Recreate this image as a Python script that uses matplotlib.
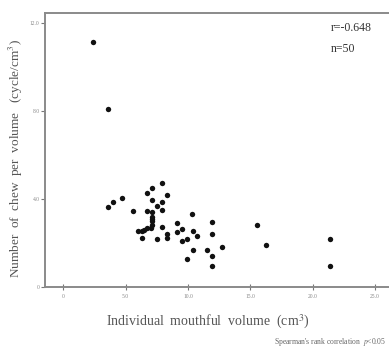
import matplotlib
matplotlib.use("Agg")
import matplotlib.pyplot as plt

plt.rcParams['font.family'] = ['Liberation Serif', 'DejaVu Serif']
plt.rcParams['mathtext.fontset'] = 'stix'

# Data
volume = [2.41, 3.56, 7.89, 7.09, 6.69, 8.29, 4.73, 4.01, 3.61, 7.09,
          7.89, 7.49, 7.89, 5.57, 6.69, 7.09, 10.30, 11.90, 7.09, 7.09,
          9.09, 7.89, 6.69, 6.01, 6.29, 9.09, 9.49, 10.42, 11.90, 10.70,
          8.29, 8.29, 6.29, 7.49, 9.49, 9.90, 12.70, 10.42, 11.50, 11.90,
          9.90, 11.90, 15.51, 16.26, 21.39, 21.39, 7.09, 6.45, 7.00, 7.09]
chews = [11.17, 8.12, 4.75, 4.53, 4.27, 4.20, 4.05, 3.86, 3.64, 3.97,
         3.86, 3.71, 3.51, 3.48, 3.48, 3.44, 3.32, 2.98, 3.03, 2.83,
         2.91, 2.75, 2.68, 2.57, 2.57, 2.50, 2.65, 2.57, 2.42, 2.33,
         2.41, 2.23, 2.23, 2.18, 2.12, 2.18, 1.85, 1.70, 1.70, 1.44,
         1.29, 0.97, 2.83, 1.94, 2.20, 0.98, 3.20, 2.60, 2.70, 3.10]

x_ticks = [0, 5, 10, 15, 20, 25]
x_ticklabels = ["0", "5.0", "10.0", "15.0", "20.0", "25.0"]
y_ticks = [0, 4, 8, 12]
y_ticklabels = ["0", "4.0", "8.0", "12.0"]

fig = plt.figure(figsize=(3.89, 3.49), dpi=100)
ax = fig.add_axes([45/389, 1 - 287.3/349, 1 - 45/389, (287.3 - 13)/349])

ax.scatter(volume, chews, s=15, color='#111111', zorder=3, linewidths=0)

ax.set_xlim(-1.47, 26.12)
ax.set_ylim(0, 12.47)
ax.set_xticks(x_ticks)
ax.set_xticklabels(x_ticklabels)
ax.set_yticks(y_ticks)
ax.set_yticklabels(y_ticklabels)
ax.tick_params(axis='x', direction='inout', length=5, width=0.8, color='#777777',
               labelsize=4, labelcolor='#888888', pad=2)
ax.tick_params(axis='y', direction='out', length=3, width=0.8, color='#777777',
               labelsize=4, labelcolor='#888888', pad=1)

for side in ['left', 'bottom', 'top']:
    ax.spines[side].set_color('#8a8a8a')
    ax.spines[side].set_linewidth(1.4)
ax.spines['right'].set_visible(False)

ax.text(0.83, 0.945, "r=-0.648", transform=ax.transAxes, fontsize=8.5,
        color='#333333', va='center', ha='left')
ax.text(0.83, 0.87, "n=50", transform=ax.transAxes, fontsize=8.5,
        color='#333333', va='center', ha='left')

fig.text(208/389, 1 - 322/349, "Individual  mouthful  volume  (cm$^3$)",
         fontsize=10, color='#555555', ha='center', va='center')
fig.text(16/389, 1 - 158/349, "Number  of  chew  per  volume   (cycle/cm$^3$)",
         fontsize=9.5, color='#555555', ha='center', va='center', rotation=90)
fig.text(386/389, 1 - 342/349, "Spearman's rank correlation  $p$<0.05",
         fontsize=5.5, color='#666666', ha='right', va='center')

fig.savefig("out.png", dpi=100)
